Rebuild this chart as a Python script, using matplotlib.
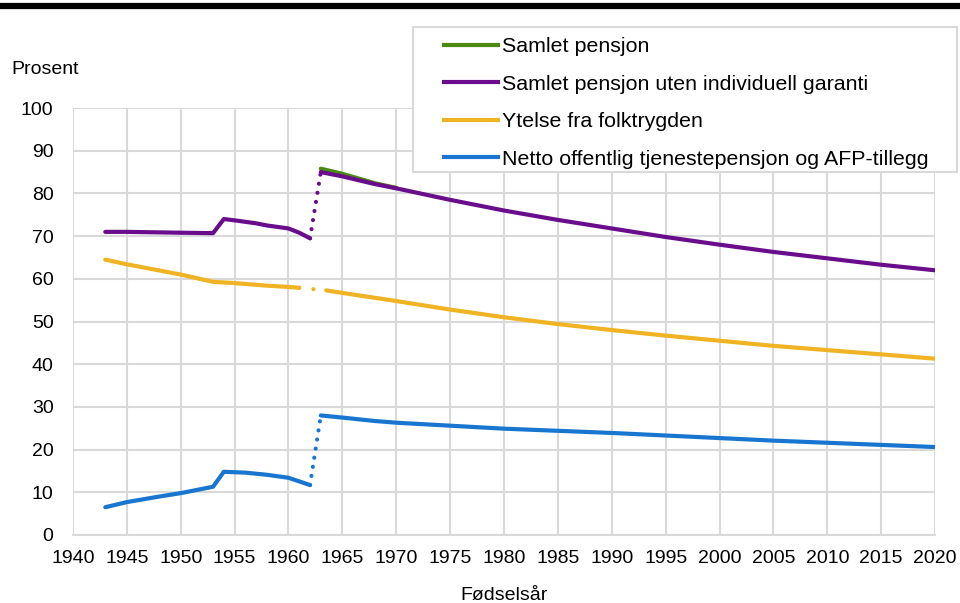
import numpy as np
import matplotlib.pyplot as plt
from matplotlib.lines import Line2D
from matplotlib.patches import Rectangle

plt.rcParams['font.family'] = ['Liberation Sans', 'DejaVu Sans']

# Samlet pensjon uten individuell garanti (purple)
purple_yr_a = [1943, 1945, 1950, 1953, 1954, 1955, 1957, 1958, 1960, 1961, 1962]
purple_val_a = [71.0, 71.0, 70.8, 70.7, 74.0, 73.7, 73.0, 72.5, 71.8, 70.8, 69.5]
purple_yr_b = [1963, 1965, 1968, 1970, 1975, 1980, 1985, 1990, 1995, 2000, 2005, 2010, 2015, 2020]
purple_val_b = [85.0, 84.0, 82.2, 81.2, 78.5, 76.0, 73.8, 71.8, 69.8, 68.0, 66.3, 64.8, 63.3, 62.0]

# Samlet pensjon (green), only visible where it differs
green_yr = [1963, 1965, 1968, 1970]
green_val = [85.8, 84.6, 82.4, 81.3]

# Ytelse fra folktrygden (yellow)
yellow_yr_a = [1943, 1945, 1950, 1953, 1955, 1958, 1960, 1961]
yellow_val_a = [64.5, 63.4, 61.0, 59.3, 59.0, 58.4, 58.1, 57.9]
yellow_yr_b = [1963.5, 1965, 1970, 1975, 1980, 1985, 1990, 1995, 2000, 2005, 2010, 2015, 2020]
yellow_val_b = [57.3, 56.7, 54.8, 52.8, 51.0, 49.4, 48.0, 46.7, 45.5, 44.3, 43.3, 42.3, 41.3]

# Netto offentlig tjenestepensjon og AFP-tillegg (blue)
blue_yr_a = [1943, 1945, 1948, 1950, 1953, 1954, 1956, 1958, 1960, 1962]
blue_val_a = [6.5, 7.7, 9.0, 9.8, 11.3, 14.8, 14.6, 14.1, 13.4, 11.7]
blue_yr_b = [1963, 1965, 1968, 1970, 1975, 1980, 1985, 1990, 1995, 2000, 2005, 2010, 2015, 2020]
blue_val_b = [28.0, 27.5, 26.7, 26.3, 25.6, 24.9, 24.4, 23.9, 23.3, 22.7, 22.1, 21.6, 21.1, 20.6]

c_green = '#4b8a10'
c_purple = '#6a0d8c'
c_yellow = '#f0b323'
c_blue = '#1976d0'
lw = 3.0
fs = 14

fig = plt.figure(figsize=(9.6, 6.03), dpi=100)
ax = fig.add_axes([0.076, 0.1128, 0.898, 0.708])

ax.plot(green_yr, green_val, color=c_green, lw=lw, solid_capstyle='round', zorder=3)
ax.plot(purple_yr_a, purple_val_a, color=c_purple, lw=lw, solid_capstyle='round', zorder=4)
ax.plot(purple_yr_b, purple_val_b, color=c_purple, lw=lw, solid_capstyle='round', zorder=4)
ax.plot([purple_yr_a[-1], purple_yr_b[0]], [purple_val_a[-1], purple_val_b[0]],
        color=c_purple, lw=lw, ls=(0, (0.01, 2.2)), dash_capstyle='round', zorder=4)

ax.plot(yellow_yr_a, yellow_val_a, color=c_yellow, lw=lw, solid_capstyle='round', zorder=3)
ax.plot(yellow_yr_b, yellow_val_b, color=c_yellow, lw=lw, solid_capstyle='round', zorder=3)
ax.plot([yellow_yr_a[-1], yellow_yr_b[0]], [yellow_val_a[-1], yellow_val_b[0]],
        color=c_yellow, lw=lw, ls=(0, (0.01, 3.4)), dash_capstyle='round', zorder=3)

ax.plot(blue_yr_a, blue_val_a, color=c_blue, lw=lw, solid_capstyle='round', zorder=3)
ax.plot(blue_yr_b, blue_val_b, color=c_blue, lw=lw, solid_capstyle='round', zorder=3)
ax.plot([blue_yr_a[-1], blue_yr_b[0]], [blue_val_a[-1], blue_val_b[0]],
        color=c_blue, lw=lw, ls=(0, (0.01, 2.2)), dash_capstyle='round', zorder=3)

ax.set_xlim(1940, 2020)
ax.set_ylim(0, 100)
ax.set_xticks(np.arange(1940, 2021, 5))
ax.set_yticks(np.arange(0, 101, 10))
ax.grid(True, color='#d9d9d9', lw=1.5)
ax.set_axisbelow(True)
for s in ['top', 'right', 'left']:
    ax.spines[s].set_visible(False)
ax.spines['bottom'].set_color('#d9d9d9')
ax.spines['bottom'].set_linewidth(1.5)
ax.tick_params(length=0, labelsize=fs, colors='black')
ax.tick_params(axis='x', pad=11)
ax.tick_params(axis='y', pad=14)
ax.set_xlabel('Fødselsår', fontsize=fs, labelpad=14)

fig.text(0.012, 0.885, 'Prosent', fontsize=fs, va='center')

# legend box drawn separately so the inner padding can match
fig.add_artist(Rectangle((0.430, 0.7148), 0.567, 0.2405, transform=fig.transFigure,
                         facecolor='white', edgecolor='#d9d9d9', lw=1.5, zorder=9))
handles = [Line2D([], [], color=c, lw=lw) for c in [c_green, c_purple, c_yellow, c_blue]]
labels = ['Samlet pensjon', 'Samlet pensjon uten individuell garanti',
          'Ytelse fra folktrygden', 'Netto offentlig tjenestepensjon og AFP-tillegg']
leg = fig.legend(handles, labels, loc='upper left', bbox_to_anchor=(0.463, 0.938),
                 fontsize=15.4, frameon=False, handlelength=2.5, handletextpad=0.2,
                 labelspacing=0.86, borderpad=0, borderaxespad=0)
leg.set_zorder(10)

fig.add_artist(Line2D([0, 1], [0.990, 0.990], color='black', lw=4.5, transform=fig.transFigure))

fig.savefig('out.png', dpi=100)
